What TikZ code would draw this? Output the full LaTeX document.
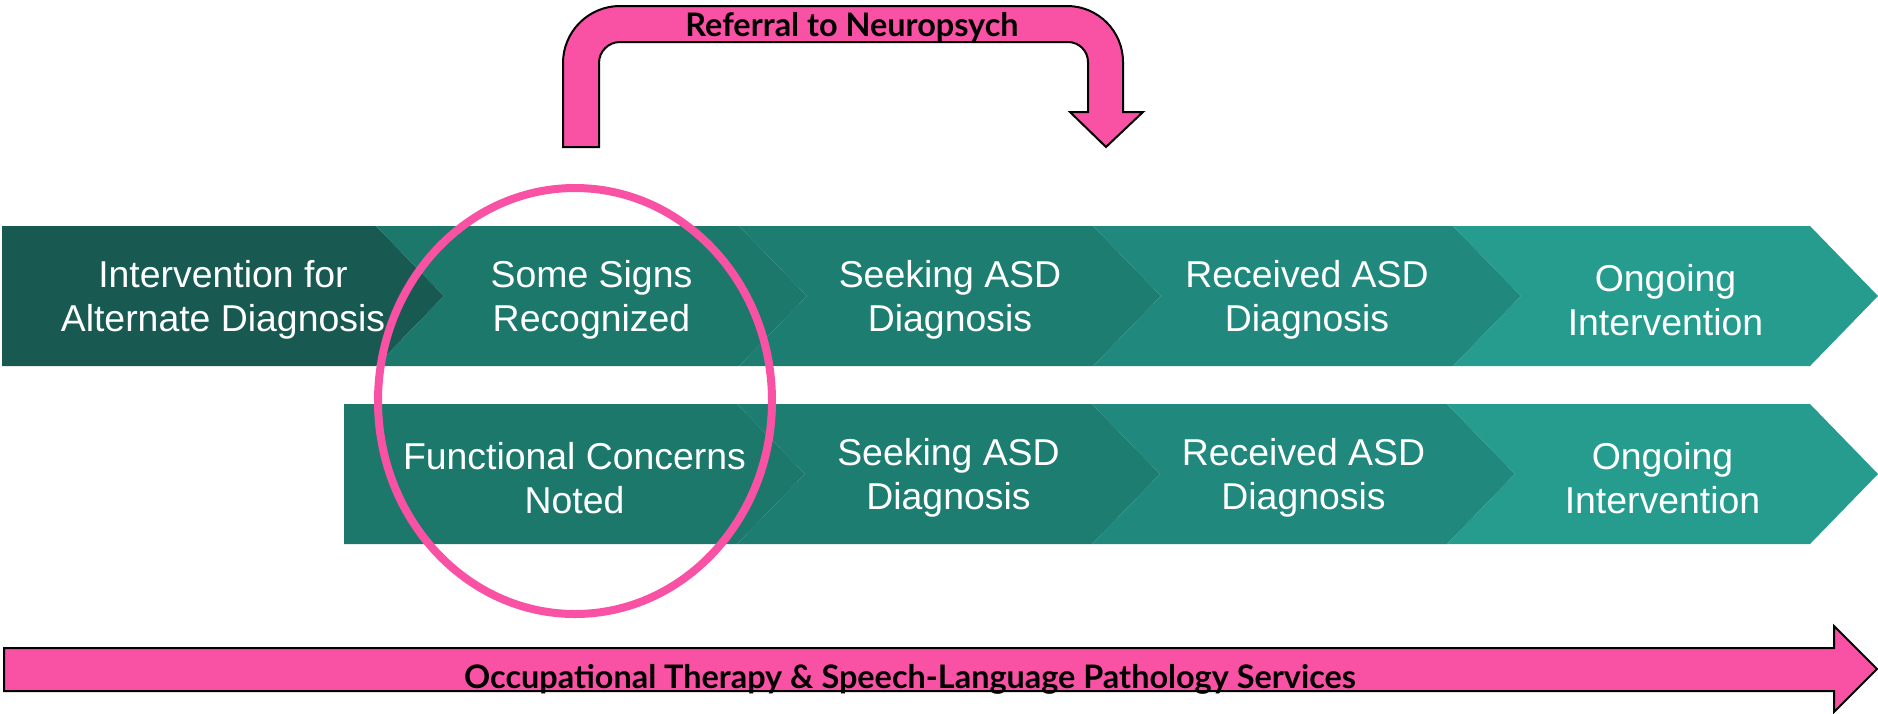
\documentclass[tikz,border=0pt]{standalone}
\usepackage{fontspec}
\setmainfont{Liberation Sans}
\newfontfamily\latofont{Lato}
\usetikzlibrary{positioning}

\definecolor{stageA}{HTML}{185A51}
\definecolor{stageB}{HTML}{1D786C}
\definecolor{stageC}{HTML}{1E7D71}
\definecolor{stageD}{HTML}{20887C}
\definecolor{stageE}{HTML}{269C8F}
\definecolor{hotpink}{HTML}{F952A5}

% #1 left, #2 end of flat part, #3 top, #4 colour, #5 depth of notch
\newcommand{\stagebox}[5]{%
  \fill[#4] (#1,#3) -- (#2,#3) -- (#2+68,#3+70) -- (#2,#3+140) -- (#1,#3+140) -- (#1+#5,#3+70) -- cycle;}

\begin{document}
\begin{tikzpicture}[x=0.5pt,y=-0.5pt,
			stage/.style={text=white,align=center,font=\fontsize{18.7}{22}\selectfont},
			pinkshape/.style={fill=hotpink,draw=black,line width=1pt,line join=miter},
			pinklabel/.style={font=\latofont\bfseries\fontsize{16.2}{18}\selectfont,anchor=base,inner sep=0pt}]
			\useasboundingbox (0,0) rectangle (1878,713);

			% top row
			\foreach \xl/\xf/\col/\nt/\nm/\txt in {
				2/376/stageA/0/intv/{Intervention for\\Alternate Diagnosis},
				376/739/stageB/68/signs/{Some Signs\\Recognized},
				739/1093/stageC/68/seekA/{Seeking ASD\\Diagnosis},
				1093/1453/stageD/68/recvA/{Received ASD\\Diagnosis},
				1453/1810/stageE/68/ongoA/{Ongoing\\Intervention}} {
				\stagebox{\xl}{\xf}{226}{\col}{\nt}
				\node[stage] (\nm) at ({(\xl+\xf+68)/2},300) {\txt};
			}

			% bottom row
			\foreach \xl/\xf/\col/\nt/\nm/\txt in {
				344/737/stageB/0/func/{Functional Concerns\\Noted},
				737/1092/stageC/68/seekB/{Seeking ASD\\Diagnosis},
				1092/1447/stageD/68/recvB/{Received ASD\\Diagnosis},
				1447/1810/stageE/68/ongoB/{Ongoing\\Intervention}} {
				\stagebox{\xl}{\xf}{404}{\col}{\nt}
				\node[stage] (\nm) at ({(\xl+\xf+68)/2},478) {\txt};
			}

			\draw[hotpink,line width=4pt] (575,401) ellipse [x radius=98.5pt,y radius=106.5pt];

			% referral arrow
			\filldraw[pinkshape] (563,147) -- (563,63) arc[start angle=180,end angle=90,radius=28.5pt]
				-- (1067,6) arc[start angle=90,end angle=0,radius=28pt] -- (1123,112) -- (1143,112)
				-- (1106,147) -- (1070,112) -- (1088,112) -- (1088,62) arc[start angle=0,end angle=90,radius=10pt]
				-- (620,42) arc[start angle=90,end angle=180,radius=10.5pt] -- (599,147) -- cycle;
			\node[pinklabel] (refer) at (852,36) {Referral to Neuropsych};

			% services arrow
			\filldraw[pinkshape] (4,648) -- (1834,648) -- (1834,626) -- (1877,669) -- (1834,712) -- (1834,691) -- (4,691) -- cycle;
			\node[pinklabel] (serv) at (910,688) {Occupational Therapy \& Speech-Language Pathology Services};
		\end{tikzpicture}
\end{document}
